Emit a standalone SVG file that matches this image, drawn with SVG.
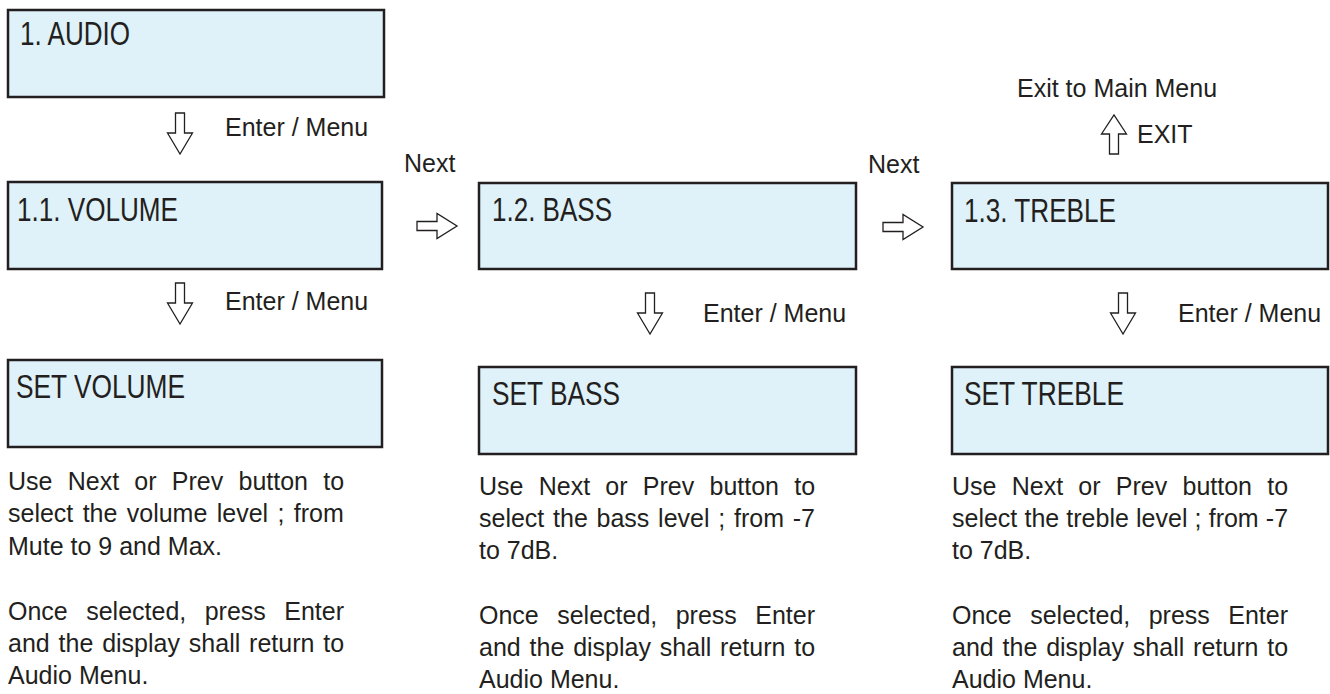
<svg xmlns="http://www.w3.org/2000/svg" width="1330" height="694" viewBox="0 0 1330 694">
<style>
  .box{fill:#dff1f9;stroke:#231f20;stroke-width:2.5}
  .lbl{font-family:"Liberation Sans",Arial,sans-serif;font-size:33px;fill:#231f20}
  .t{font-family:"Liberation Sans",Arial,sans-serif;font-size:25px;fill:#231f20}
  .arr{fill:#ffffff;stroke:#231f20;stroke-width:1.3;stroke-linejoin:miter}
</style>
<defs>
  <path id="down" d="M-4.5 0 H4.5 V20 H12.5 L0 41 L-12.5 20 H-4.5 Z"/>
  <path id="right" d="M0 -4.5 V4.5 H20 V12.5 L40 0 L20 -12.5 V-4.5 Z"/>
  <path id="up" d="M-4.5 39 H4.5 V19 H12.5 L0 0 L-12.5 19 H-4.5 Z"/>
</defs>

<g id="node-audio">
  <rect class="box" x="8" y="10" width="376" height="87"/>
  <text class="lbl" x="20" y="45" textLength="110" lengthAdjust="spacingAndGlyphs">1. AUDIO</text>
</g>
<g id="node-volume">
  <rect class="box" x="8" y="182" width="374" height="87"/>
  <text class="lbl" x="17" y="221" textLength="161" lengthAdjust="spacingAndGlyphs">1.1. VOLUME</text>
</g>
<g id="node-bass">
  <rect class="box" x="479" y="183" width="377" height="86"/>
  <text class="lbl" x="492" y="221" textLength="120" lengthAdjust="spacingAndGlyphs">1.2. BASS</text>
</g>
<g id="node-treble">
  <rect class="box" x="952" y="183" width="376" height="86"/>
  <text class="lbl" x="964" y="222" textLength="152" lengthAdjust="spacingAndGlyphs">1.3. TREBLE</text>
</g>
<g id="node-set-volume">
  <rect class="box" x="8" y="360" width="374" height="87"/>
  <text class="lbl" x="16" y="398" textLength="169" lengthAdjust="spacingAndGlyphs">SET VOLUME</text>
</g>
<g id="node-set-bass">
  <rect class="box" x="479" y="367" width="377" height="87"/>
  <text class="lbl" x="492" y="405" textLength="128" lengthAdjust="spacingAndGlyphs">SET BASS</text>
</g>
<g id="node-set-treble">
  <rect class="box" x="952" y="367" width="376" height="87"/>
  <text class="lbl" x="964" y="405" textLength="160" lengthAdjust="spacingAndGlyphs">SET TREBLE</text>
</g>

<g id="connectors">
  <use href="#down" class="arr" x="180" y="113"/>
  <use href="#down" class="arr" x="180" y="283"/>
  <use href="#down" class="arr" x="650" y="293"/>
  <use href="#down" class="arr" x="1123" y="293"/>
  <use href="#right" class="arr" x="417" y="226"/>
  <use href="#right" class="arr" x="883" y="227"/>
  <use href="#up" class="arr" x="1114" y="115"/>
  <text class="t" x="225" y="136">Enter / Menu</text>
  <text class="t" x="225" y="310">Enter / Menu</text>
  <text class="t" x="703" y="322">Enter / Menu</text>
  <text class="t" x="1178" y="322">Enter / Menu</text>
  <text class="t" x="404" y="172">Next</text>
  <text class="t" x="868" y="173">Next</text>
  <text class="t" x="1017" y="97">Exit to Main Menu</text>
  <text class="t" x="1137" y="143">EXIT</text>
</g>

<g id="desc-volume" class="t">
  <text x="8" y="490" word-spacing="8.3">Use Next or Prev button to</text>
  <text x="8" y="522" word-spacing="2.4">select the volume level ; from</text>
  <text x="8" y="555">Mute to 9 and Max.</text>
  <text x="8" y="620" word-spacing="11.5">Once selected, press Enter</text>
  <text x="8" y="652" word-spacing="1.9">and the display shall return to</text>
  <text x="8" y="684">Audio Menu.</text>
</g>
<g id="desc-bass" class="t">
  <text x="479" y="495" word-spacing="8.3">Use Next or Prev button to</text>
  <text x="479" y="527" word-spacing="1.8">select the bass level ; from -7</text>
  <text x="479" y="559">to 7dB.</text>
  <text x="479" y="624" word-spacing="11.5">Once selected, press Enter</text>
  <text x="479" y="656" word-spacing="1.9">and the display shall return to</text>
  <text x="479" y="688">Audio Menu.</text>
</g>
<g id="desc-treble" class="t">
  <text x="952" y="495" word-spacing="8.3">Use Next or Prev button to</text>
  <text x="952" y="527" word-spacing="0.2">select the treble level ; from -7</text>
  <text x="952" y="559">to 7dB.</text>
  <text x="952" y="624" word-spacing="11.5">Once selected, press Enter</text>
  <text x="952" y="656" word-spacing="1.9">and the display shall return to</text>
  <text x="952" y="688">Audio Menu.</text>
</g>
</svg>
